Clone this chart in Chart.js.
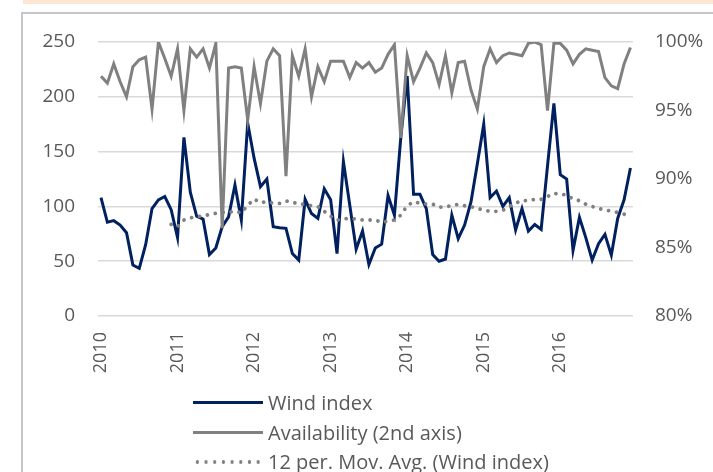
<!DOCTYPE html>
<html>
<head>
<meta charset="utf-8">
<script src="https://cdn.jsdelivr.net/npm/chart.js@4.4.1/dist/chart.umd.min.js"></script>
<style>
  body { margin: 0; background: #fff; }
  #wrap { position: relative; width: 713px; height: 472px; overflow: hidden; font-family: "Open Sans", sans-serif; }
  #band { position: absolute; left: 23px; top: 0; width: 690px; height: 4px; background: #fde6d4; }
  #frame { position: absolute; left: 21px; top: 12px; width: 720px; height: 480px; border-left: 2px solid #c6c6c6; border-top: 2px solid #c6c6c6; }
  #chart { position: absolute; left: 0; top: 0; }
  #legend { position: absolute; left: 193px; top: 388px; }
  .item { height: 29.5px; display: flex; align-items: center; color: #595959; font-size: 20px; white-space: nowrap; }
  .swatch { width: 70px; height: 3px; margin-right: 5px; }
  .dots { height: 4px; background: radial-gradient(circle, #808080 1.6px, transparent 2px) 0 0 / 8.7px 4px repeat-x; }
</style>
</head>
<body>
<div id="wrap">
  <div id="band"></div>
  <div id="frame"></div>
  <canvas id="chart" width="713" height="472"></canvas>
  <div id="legend"></div>
</div>
<script>
  // años que se ven en el eje x (uno por enero)
  const years = ['2010', '2011', '2012', '2013', '2014', '2015', '2016'];

  // índice de viento mensual, ene 2010 - dic 2016
  const windIndex = [
    108, 85.5, 87, 83, 76, 46.5, 43.5, 65, 98, 106, 109, 97,
    71.5, 163, 113, 91, 88.5, 56, 62, 81.5, 90.5, 119.5, 87.5, 176,
    144, 118, 125, 81.5, 80.5, 80, 57, 51, 106.5, 93.5, 89, 116,
    106, 57, 141, 101, 61, 77.5, 47, 62, 65.5, 110, 92, 163,
    219, 111, 111, 98, 56, 50, 52, 92, 70.5, 83, 104, 139,
    175, 108, 114, 100, 108, 78.5, 98, 77.5, 83.5, 79, 137, 194,
    129, 125, 60, 90, 71.5, 51, 66, 74.5, 55.5, 89, 106, 135
  ];

  // disponibilidad en % (eje secundario)
  const availability = [
    97.5, 97.0, 98.4, 97.1, 96.0, 98.2, 98.7, 98.9, 95.1, 100, 98.8, 97.5,
    99.5, 95.0, 99.5, 98.9, 99.5, 98.1, 99.9, 86.4, 98.1, 98.2, 98.1, 94.3,
    98.2, 95.5, 98.6, 99.5, 99.0, 90.2, 99.0, 97.5, 99.5, 96.0, 98.2, 97.1,
    98.6, 98.6, 98.6, 97.4, 98.5, 98.1, 98.5, 97.8, 98.1, 99.1, 99.8, 93.0,
    99.0, 97.1, 98.1, 99.2, 98.5, 96.9, 99.0, 96.3, 98.5, 98.6, 96.5, 95.1,
    98.2, 99.5, 98.5, 99.0, 99.2, 99.1, 99.0, 99.9, 100, 99.8, 95.0, 99.9,
    99.9, 99.4, 98.4, 99.1, 99.5, 99.4, 99.3, 97.4, 96.8, 96.6, 98.4, 99.6
  ];

  // media móvil de 12 periodos (empieza en dic 2010)
  const movAvg = [
    null, null, null, null, null, null, null, null, null, null, null, 83.6,
    81.5, 87.5, 89.5, 90.5, 91.5, 92.5, 93.7, 94.6, 94.5, 95.8, 94, 101,
    106.7, 103.4, 104.3, 103, 102.8, 104.9, 104, 102, 102, 100.5, 99.7, 95.5,
    91, 87.6, 88.5, 89.1, 88.5, 87.6, 87.6, 87.6, 85.5, 86.5, 87.6, 92,
    100.6, 104.3, 103, 102.2, 102, 99.2, 99.7, 100.6, 101.9, 100.6, 99.7, 98.2,
    96.5, 95.5, 95.5, 96.5, 100, 103, 105.5, 105.2, 106.5, 106.5, 109, 112,
    111, 110.5, 106.7, 105.2, 102, 100, 98, 97, 95.5, 94.5, 93, 89
  ];

  const seriesLabels = ['Wind index', 'Availability (2nd axis)', '12 per. Mov. Avg. (Wind index)'];

  const gris = '#595959';
  const fuenteX = { family: '"Open Sans", sans-serif', size: 18 };
  const fuenteY = { family: '"Open Sans", sans-serif', size: 19 };

  const puntos = arr => arr.map((v, i) => ({ x: i, y: v }));

  new Chart(document.getElementById('chart'), {
    type: 'line',
    data: {
      datasets: [
        {
          label: seriesLabels[0],
          data: puntos(windIndex),
          borderColor: '#002060',
          borderWidth: 3,
          pointRadius: 0,
          tension: 0,
          yAxisID: 'y',
          order: 2
        },
        {
          label: seriesLabels[1],
          data: puntos(availability),
          borderColor: '#808080',
          borderWidth: 3,
          pointRadius: 0,
          tension: 0,
          yAxisID: 'y1',
          order: 1
        },
        {
          label: seriesLabels[2],
          data: puntos(movAvg),
          borderColor: '#808080',
          borderWidth: 3.8,
          borderDash: [0.01, 8],
          borderCapStyle: 'round',
          pointRadius: 0,
          tension: 0,
          spanGaps: false,
          yAxisID: 'y',
          order: 0
        }
      ]
    },
    options: {
      responsive: false,
      animation: false,
      devicePixelRatio: 1,
      layout: { padding: { left: 0, right: 0, top: 42, bottom: 96 } },
      plugins: {
        legend: { display: false },
        tooltip: { enabled: false }
      },
      scales: {
        x: {
          type: 'linear',
          min: -0.47,
          max: 83.4,
          grid: { display: false },
          border: { display: false },
          afterBuildTicks: s => { s.ticks = years.map((y, k) => ({ value: k * 12 })); },
          afterFit: s => { s.height = 60; },
          ticks: {
            minRotation: 90,
            maxRotation: 90,
            autoSkip: false,
            padding: 8,
            color: gris,
            font: fuenteX,
            callback: v => years[Math.round(v / 12)]
          }
        },
        y: {
          position: 'left',
          min: 0,
          max: 250,
          afterFit: s => { s.width = 98; },
          grid: { color: '#d9d9d9', lineWidth: 1.5, drawTicks: false },
          border: { display: false },
          ticks: { stepSize: 50, padding: 23, color: gris, font: fuenteY }
        },
        y1: {
          position: 'right',
          min: 80,
          max: 100,
          afterFit: s => { s.width = 80; },
          grid: { display: false, drawTicks: false },
          border: { display: false },
          ticks: { stepSize: 5, padding: 22, color: gris, font: fuenteY, callback: v => v + '%' }
        }
      }
    }
  });

  // leyenda en html, una serie por línea
  const leyenda = document.getElementById('legend');
  const muestras = ['background:#002060', 'background:#808080', ''];
  seriesLabels.forEach((txt, i) => {
    const fila = document.createElement('div');
    fila.className = 'item';
    const sw = document.createElement('div');
    sw.className = i === 2 ? 'swatch dots' : 'swatch';
    if (muestras[i]) sw.style.cssText = muestras[i];
    const t = document.createElement('span');
    t.textContent = txt;
    fila.appendChild(sw);
    fila.appendChild(t);
    leyenda.appendChild(fila);
  });
</script>
</body>
</html>
